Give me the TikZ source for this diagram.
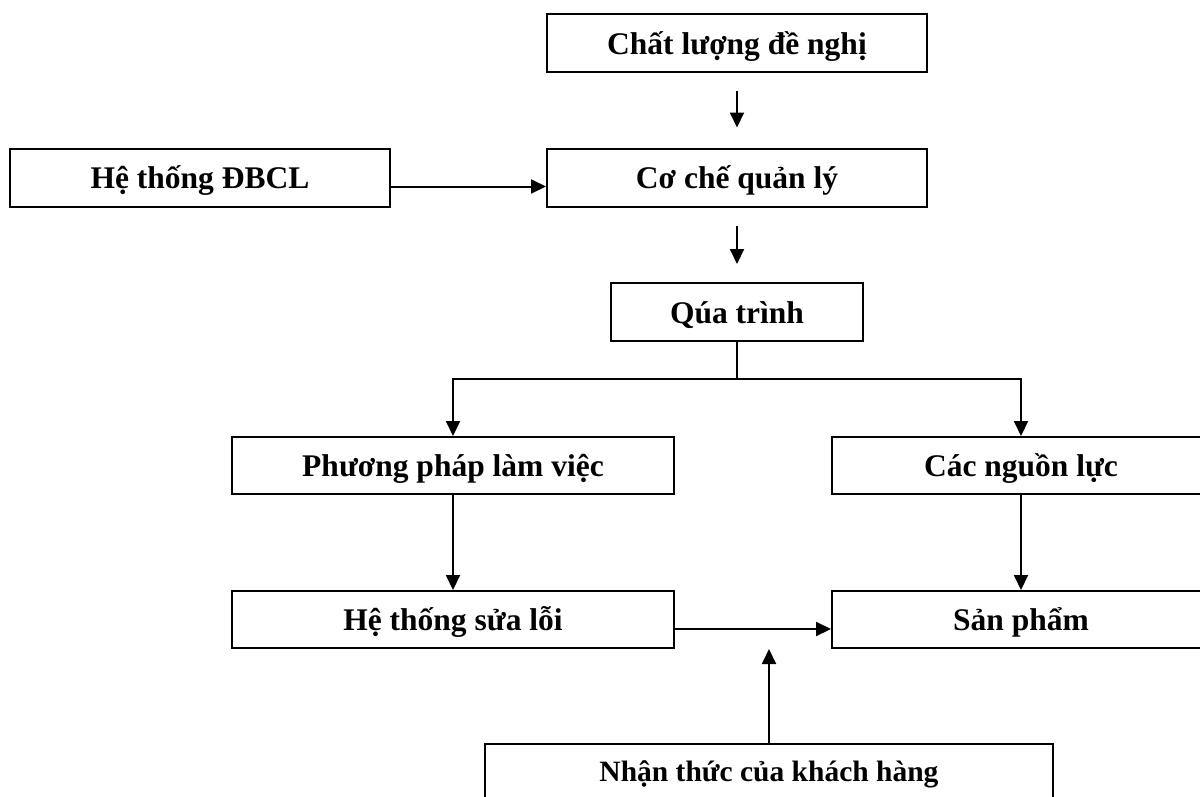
\documentclass[tikz,border=0pt]{standalone}
\usepackage{fontspec}
\setmainfont{Liberation Serif}
\usetikzlibrary{arrows.meta,calc}
\tikzset{
  box/.style={draw=black, line width=2pt, minimum height=58pt, inner sep=0pt,
    text height=22pt, text depth=0pt,
    font=\bfseries\fontsize{31.5}{36}\selectfont, text=black},
  arr/.style={draw=black, line width=2pt, -{Triangle[length=15pt,width=14pt]}},
  ln/.style={draw=black, line width=2pt}
}
\begin{document}
\begin{tikzpicture}[x=1pt,y=-1pt]
\useasboundingbox (0,0) rectangle (1200,796);
\clip (0,0) rectangle (1200,796);
\fill[white] (0,0) rectangle (1200,796);
\node[box, minimum width=380pt] (B1) at (737,43) {Chất lượng đề nghị};
\node[box, minimum width=380pt] (B2) at (737,177.5) {Cơ chế quản lý};
\node[box, minimum width=380pt] (DB) at (200,177.5) {Hệ thống ĐBCL};
\node[box, minimum width=252pt] (Q) at (737,312) {Qúa trình};
\node[box, minimum width=442pt, minimum height=57pt] (PP) at (453,465.5) {Phương pháp làm việc};
\node[box, minimum width=378pt, minimum height=57pt] (CNL) at (1021,465.5) {Các nguồn lực};
\node[box, minimum width=442pt, minimum height=57pt] (HT) at (453,619.5) {Hệ thống sửa lỗi};
\node[box, minimum width=378pt, minimum height=57pt] (SP) at (1021,619.5) {Sản phẩm};
\node[box, minimum width=568pt, text height=16pt, font=\bfseries\fontsize{29.5}{34}\selectfont] (NT) at (769,773) {Nhận thức của khách hàng};
\draw[arr] ($(B1.south)+(0,18)$) -- ($(B2.north)+(0,-20)$);
\draw[arr] ([yshift=-9pt]DB.east) -- ([yshift=-9pt]B2.west);
\draw[arr] ($(B2.south)+(0,18)$) -- ($(Q.north)+(0,-18)$);
\coordinate (j) at ($(Q.south)+(0,37)$);
\draw[ln] (Q.south) -- (j);
\draw[arr] (j) -| (PP.north);
\draw[arr] (j) -| (CNL.north);
\draw[arr] (PP.south) -- (HT.north);
\draw[arr] (CNL.south) -- (SP.north);
\draw[arr] ([yshift=-9.5pt]HT.east) -- ([yshift=-9.5pt]SP.west);
\coordinate (up) at ($(NT.north)+(0,-94)$);
\draw[arr] (NT.north) -- (up);
\end{tikzpicture}
\end{document}
